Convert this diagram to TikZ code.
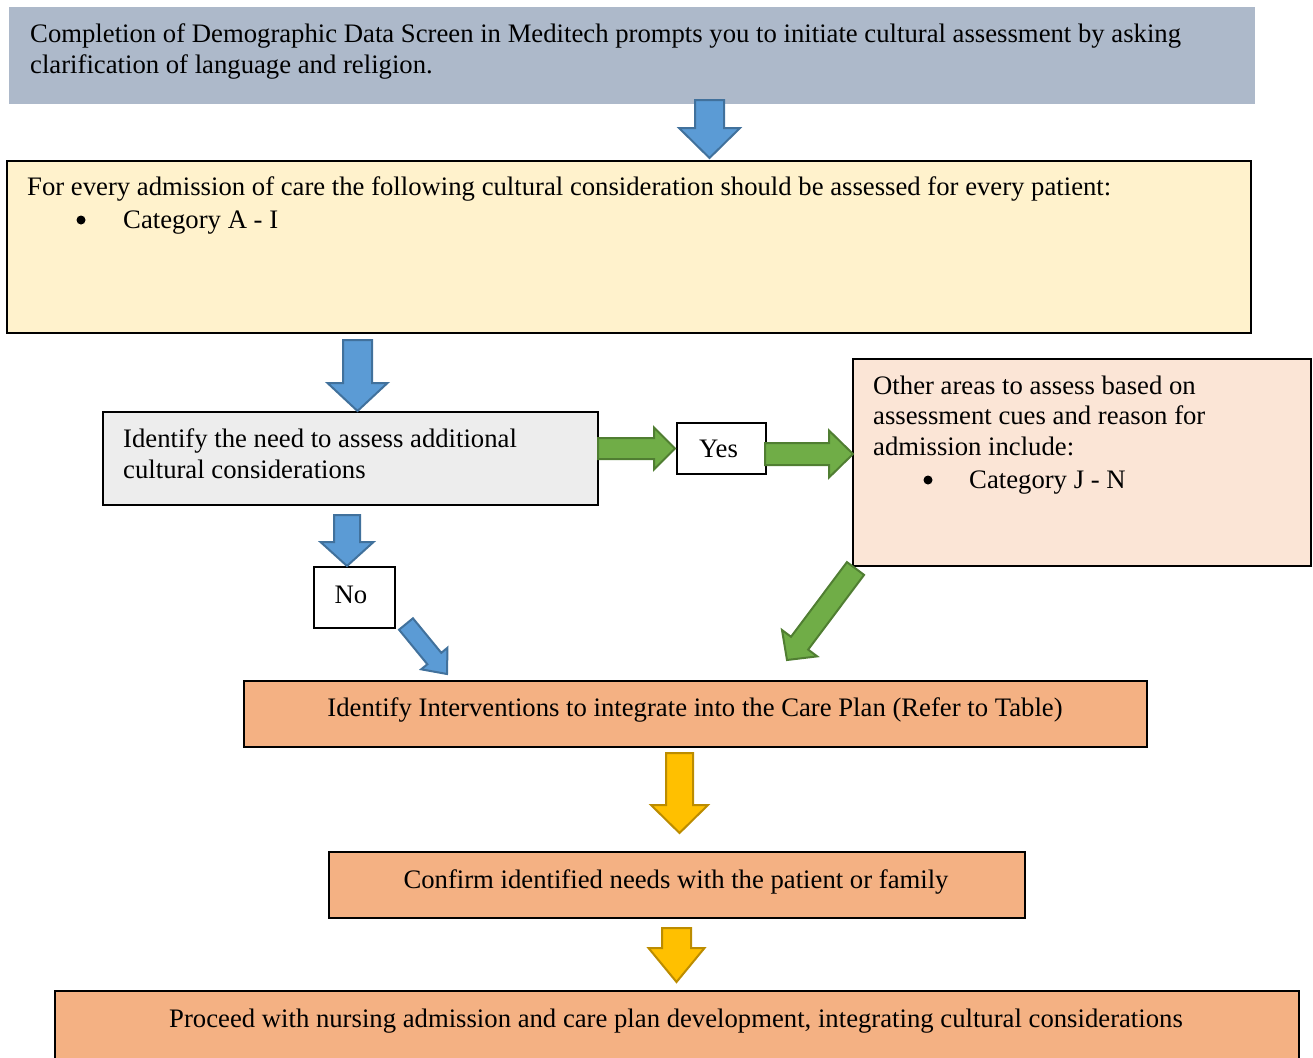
\documentclass[tikz,border=0pt]{standalone}
\usepackage{fontspec}
\setmainfont{Liberation Serif}
\usetikzlibrary{calc}
\definecolor{topfill}{HTML}{ADB9CA}
\definecolor{yelfill}{HTML}{FFF2CC}
\definecolor{grayfill}{HTML}{EDEDED}
\definecolor{peachfill}{HTML}{FBE5D6}
\definecolor{orfill}{HTML}{F4B183}
\definecolor{arrblue}{HTML}{5B9BD5}
\definecolor{arrblueline}{HTML}{41719C}
\definecolor{arrgreen}{HTML}{70AD47}
\definecolor{arrgreenline}{HTML}{507E32}
\definecolor{arryel}{HTML}{FFC000}
\definecolor{arryelline}{HTML}{BC8C00}
% #1 style, #2 start, #3 tip, #4 shaft half width, #5 head half width, #6 head length
\newcommand{\blockarr}[6]{%
  \coordinate (bh) at ($(#3)!#6pt!(#2)$);
  \draw[#1] ($(#2)!#4pt!90:(#3)$) -- ($(bh)!#4pt!90:(#3)$) -- ($(bh)!#5pt!90:(#3)$) -- (#3)
    -- ($(bh)!#5pt!-90:(#3)$) -- ($(bh)!#4pt!-90:(#3)$) -- ($(#2)!#4pt!-90:(#3)$) -- cycle;}
\begin{document}
\begin{tikzpicture}[x=1pt,y=-1pt,
  box/.style={rectangle, draw=black, line width=2pt, inner sep=0pt, outer sep=0pt, anchor=north west},
  txt/.style={inner sep=0pt, anchor=base west, font=\fontsize{26.7}{31}\selectfont},
  ctxt/.style={inner sep=0pt, anchor=base, font=\fontsize{26.7}{31}\selectfont},
  bul/.style={circle, fill=black, inner sep=0pt, minimum size=9pt},
  bluearr/.style={fill=arrblue, draw=arrblueline, line width=2pt, line join=miter},
  greenarr/.style={fill=arrgreen, draw=arrgreenline, line width=2pt, line join=miter},
  yelarr/.style={fill=arryel, draw=arryelline, line width=2pt, line join=miter}]
\useasboundingbox (0,0) rectangle (1313,1057);
% boxes
\node[box, draw=none, fill=topfill, minimum width=1246pt, minimum height=97pt] (top) at (9,7) {};
\node[box, fill=yelfill, minimum width=1244pt, minimum height=172pt] (every) at (7,161) {};
\node[box, fill=grayfill, minimum width=495pt, minimum height=93pt] (need) at (103,412) {};
\node[box, fill=white, minimum width=89pt, minimum height=51pt] (yes) at (677,423) {};
\node[box, fill=peachfill, minimum width=458pt, minimum height=207pt] (other) at (853,359) {};
\node[box, fill=white, minimum width=81pt, minimum height=61pt] (no) at (314,567) {};
\node[box, fill=orfill, minimum width=903pt, minimum height=66pt] (interv) at (244,681) {};
\node[box, fill=orfill, minimum width=696pt, minimum height=66pt] (confirm) at (329,852) {};
\node[box, fill=orfill, minimum width=1244pt, minimum height=80pt] (proceed) at (55,991) {};
% texts
\node[txt] (t1a) at (30,43) {Completion of Demographic Data Screen in Meditech prompts you to initiate cultural assessment by asking};
\node[txt] (t1b) at (30,74) {clarification of language and religion.};
\node[txt] (t2a) at (27,195) {For every admission of care the following cultural consideration should be assessed for every patient:};
\node[bul] (t2b) at (81,220) {};
\node[txt] (t2c) at (123,228) {Category A - I};
\node[txt] (t3a) at (123,447) {Identify the need to assess additional};
\node[txt] (t3b) at (123,478) {cultural considerations};
\node[ctxt] (tyes) at (718.5,457) {Yes};
\node[txt] (t4a) at (873,394) {Other areas to assess based on};
\node[txt] (t4b) at (873,424) {assessment cues and reason for};
\node[txt] (t4c) at (873,455) {admission include:};
\node[bul] (t4d) at (928,480) {};
\node[txt] (t4e) at (969,488) {Category J - N};
\node[ctxt] (tno) at (351,603) {No};
\node[ctxt] (t5) at (695,716) {Identify Interventions to integrate into the Care Plan (Refer to Table)};
\node[ctxt] (t6) at (676,888) {Confirm identified needs with the patient or family};
\node[ctxt] (t7) at (676,1027) {Proceed with nursing admission and care plan development, integrating cultural considerations};
% arrow coordinates
\coordinate (a1s) at (709.5,100); \coordinate (a1e) at (709.5,158);
\coordinate (a2s) at (357.5,340); \coordinate (a2e) at (357.5,411);
\coordinate (a3s) at (598,448.5); \coordinate (a3e) at (675,448.5);
\coordinate (a4s) at (765,454); \coordinate (a4e) at (853,454);
\coordinate (a5s) at (347,515); \coordinate (a5e) at (347,566);
\coordinate (a6s) at (406,624); \coordinate (a6e) at (447,674);
\coordinate (a7s) at (855.5,568.5); \coordinate (a7e) at (787,660);
\coordinate (a8s) at (679.5,753); \coordinate (a8e) at (679.5,833);
\coordinate (a9s) at (676.5,928); \coordinate (a9e) at (676.5,982);
% arrows
\blockarr{bluearr}{a1s}{a1e}{14.5}{30.5}{30}
\blockarr{bluearr}{a2s}{a2e}{14.5}{30}{28}
\blockarr{greenarr}{a3s}{a3e}{10.5}{21}{21}
\blockarr{greenarr}{a4s}{a4e}{11}{23.5}{24}
\blockarr{bluearr}{a5s}{a5e}{13}{26.5}{24}
\blockarr{bluearr}{a6s}{a6e}{9}{17}{20}
\blockarr{greenarr}{a7s}{a7e}{10.7}{22}{21}
\blockarr{yelarr}{a8s}{a8e}{13.5}{28.5}{28}
\blockarr{yelarr}{a9s}{a9e}{14.5}{28}{34}
\end{tikzpicture}
\end{document}
